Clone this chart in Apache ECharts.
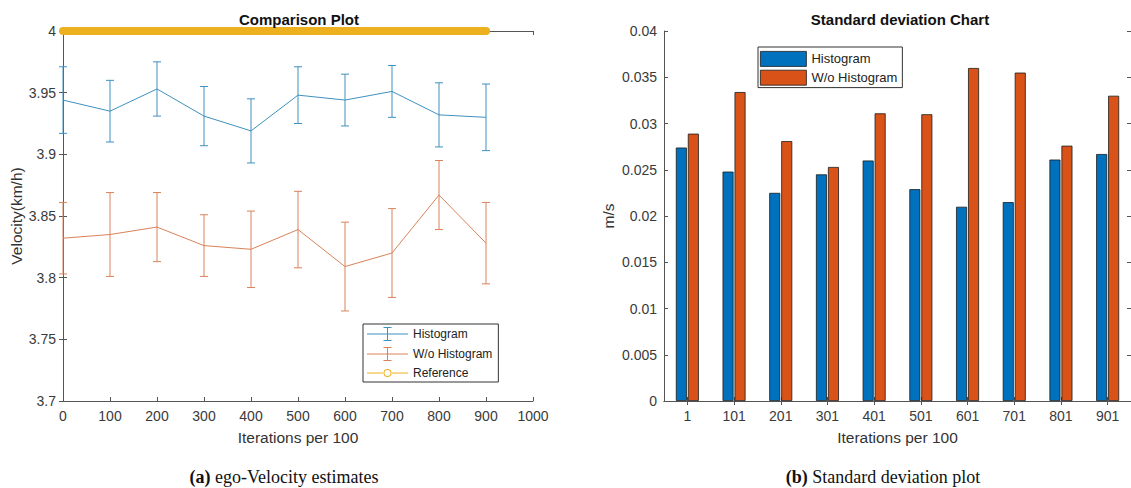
<!DOCTYPE html>
<html>
<head>
<meta charset="utf-8">
<title>Velocity estimates and standard deviation</title>
<script src="https://cdn.jsdelivr.net/npm/echarts@6/dist/echarts.min.js"></script>
<style>
  html, body { margin: 0; padding: 0; background: #fff; }
  #chart { width: 1131px; height: 488px; }
</style>
</head>
<body>
<div id="chart"></div>
<script>
// ---- data: ego-velocity estimates (km/h) per 100 iterations ----
const iterX = [0, 100, 200, 300, 400, 500, 600, 700, 800, 900];
const histMean = [3.944, 3.935, 3.953, 3.931, 3.919, 3.948, 3.944, 3.951, 3.932, 3.930];
const histErr  = [0.027, 0.025, 0.022, 0.024, 0.026, 0.023, 0.021, 0.021, 0.026, 0.027];
const woMean   = [3.832, 3.835, 3.841, 3.826, 3.823, 3.839, 3.809, 3.820, 3.867, 3.828];
const woErr    = [0.029, 0.034, 0.028, 0.025, 0.031, 0.031, 0.036, 0.036, 0.028, 0.033];
const refValue = [4, 4, 4, 4, 4, 4, 4, 4, 4, 4];

// ---- data: standard deviation (m/s) ----
const sdCategories = ['1', '101', '201', '301', '401', '501', '601', '701', '801', '901'];
const sdHist = [0.0274, 0.0248, 0.0225, 0.0245, 0.0260, 0.0229, 0.0210, 0.0215, 0.0261, 0.0267];
const sdWo   = [0.0289, 0.0334, 0.0281, 0.0253, 0.0311, 0.0310, 0.0360, 0.0355, 0.0276, 0.0330];

const FONT = 'Liberation Sans, Arial, Helvetica, sans-serif';
const SERIF = 'Liberation Serif, Times New Roman, serif';
const AXIS_COLOR = '#555';
const LABEL_COLOR = '#3a3a3a';
const NAME_SIZE = 15.5;
const C_HIST = '#3f91bf';
const C_WO = '#d9825a';
const C_REF = '#EDB120';
const C_BAR1 = '#0072BD';
const C_BAR2 = '#D95319';

const chart = echarts.init(document.getElementById('chart'), null, { renderer: 'svg' });

function trimNum(v, d) { return String(parseFloat(v.toFixed(d))); }

// boxed axis helpers (ticks pointing inward on all four sides)
function valueAxis(extra) {
  return Object.assign({
    type: 'value',
    axisLine: { show: true, lineStyle: { color: AXIS_COLOR, width: 1 } },
    axisTick: { show: true, inside: true, length: 4, lineStyle: { color: AXIS_COLOR } },
    splitLine: { show: false },
    axisLabel: { color: LABEL_COLOR, fontSize: 14, fontFamily: FONT, margin: 7 },
    nameTextStyle: { color: '#333', fontSize: NAME_SIZE, fontFamily: FONT }
  }, extra);
}

// vertical error bars with caps, placed through the grid's coordinate system
function errorBars(name, means, errs, color) {
  return {
    type: 'custom',
    name: name,
    xAxisIndex: 0,
    yAxisIndex: 0,
    clip: false,
    z: 3,
    silent: true,
    data: iterX.map((x, i) => [x, means[i] - errs[i], means[i] + errs[i]]),
    encode: { x: 0, y: [1, 2] },
    renderItem: function (params, api) {
      const x = api.value(0);
      const lo = api.coord([x, api.value(1)]);
      const hi = api.coord([x, api.value(2)]);
      const cap = 4;
      const style = { stroke: color, lineWidth: 1, fill: 'none' };
      return {
        type: 'group',
        children: [
          { type: 'line', shape: { x1: lo[0], y1: lo[1], x2: hi[0], y2: hi[1] }, style: style },
          { type: 'line', shape: { x1: lo[0] - cap, y1: lo[1], x2: lo[0] + cap, y2: lo[1] }, style: style },
          { type: 'line', shape: { x1: hi[0] - cap, y1: hi[1], x2: hi[0] + cap, y2: hi[1] }, style: style }
        ]
      };
    }
  };
}

// legend glyphs: line with error bar, line with circle marker
const errIcon = 'path://M0,6.5h41v1h-41z M20,0h1v14h-1z M16.5,0h8v1h-8z M16.5,13h8v1h-8z';
const refIcon = 'path://M0,6.5h16v1h-16z M25,6.5h16v1h-16z M20.5,3a4,4 0 1,1 0,8a4,4 0 1,1 0,-8z M20.5,4a3,3 0 1,0 0,6a3,3 0 1,0 0,-6z';

const option = {
  animation: false,
  backgroundColor: '#fff',
  title: [
    { text: 'Comparison Plot', left: 299, top: 19, textAlign: 'center', textVerticalAlign: 'middle', padding: 0,
      textStyle: { fontSize: 15, fontWeight: 'bold', color: '#111', fontFamily: FONT } },
    { text: 'Standard deviation Chart', left: 900, top: 19, textAlign: 'center', textVerticalAlign: 'middle', padding: 0,
      textStyle: { fontSize: 15, fontWeight: 'bold', color: '#111', fontFamily: FONT } }
  ],
  grid: [
    { left: 63, top: 31, width: 470, height: 370, containLabel: false },
    { left: 664, top: 31, width: 470, height: 370, containLabel: false }
  ],
  legend: [
    {
      data: [
        { name: 'Histogram', icon: errIcon, itemStyle: { color: C_HIST, borderWidth: 0 } },
        { name: 'W/o Histogram', icon: errIcon, itemStyle: { color: C_WO, borderWidth: 0 } },
        { name: 'Reference', icon: refIcon, itemStyle: { color: C_REF, borderWidth: 0 } }
      ],
      orient: 'vertical', left: 363, top: 324,
      padding: [3, 6, 3, 4], itemWidth: 41, itemHeight: 14, itemGap: 6,
      symbolKeepAspect: true, selectedMode: false,
      borderColor: '#333', borderWidth: 1, backgroundColor: '#fff',
      textStyle: { fontSize: 12, color: '#222', fontFamily: FONT }
    },
    {
      data: [
        { name: 'sd:Histogram', icon: 'rect', itemStyle: { color: C_BAR1, borderColor: '#1a1a1a', borderWidth: 0.8 } },
        { name: 'sd:W/o Histogram', icon: 'rect', itemStyle: { color: C_BAR2, borderColor: '#1a1a1a', borderWidth: 0.8 } }
      ],
      formatter: function (n) { return n.replace('sd:', ''); },
      orient: 'vertical', left: 758, top: 47,
      padding: [4, 5, 2, 2], itemWidth: 46, itemHeight: 15, itemGap: 3,
      selectedMode: false,
      borderColor: '#333', borderWidth: 1, backgroundColor: '#fff',
      textStyle: { fontSize: 13, color: '#222', fontFamily: FONT }
    }
  ],
  xAxis: [
    valueAxis({ gridIndex: 0, position: 'bottom', min: 0, max: 1000, interval: 100,
      name: 'Iterations per 100', nameLocation: 'middle', nameGap: 28,
      axisLabel: { color: LABEL_COLOR, fontSize: 14, fontFamily: FONT, margin: 8,
        formatter: v => String(Math.round(v)) } }),
    valueAxis({ gridIndex: 0, position: 'top', min: 0, max: 1000, interval: 100, axisLabel: { show: false } }),
    {
      type: 'category', gridIndex: 1, position: 'bottom', data: sdCategories,
      name: 'Iterations per 100', nameLocation: 'middle', nameGap: 28,
      nameTextStyle: { color: '#333', fontSize: NAME_SIZE, fontFamily: FONT },
      axisLine: { show: true, lineStyle: { color: AXIS_COLOR } },
      axisTick: { show: true, inside: true, alignWithLabel: true, length: 4, lineStyle: { color: AXIS_COLOR } },
      axisLabel: { color: LABEL_COLOR, fontSize: 14, fontFamily: FONT, margin: 8 }
    },
    {
      type: 'category', gridIndex: 1, position: 'top', data: sdCategories,
      axisLine: { show: true, lineStyle: { color: AXIS_COLOR } },
      axisTick: { show: true, inside: true, alignWithLabel: true, length: 4, lineStyle: { color: AXIS_COLOR } },
      axisLabel: { show: false }
    }
  ],
  yAxis: [
    valueAxis({ gridIndex: 0, position: 'left', min: 3.7, max: 4, interval: 0.05,
      name: 'Velocity(km/h)', nameLocation: 'middle', nameGap: 39,
      axisLabel: { color: LABEL_COLOR, fontSize: 14, fontFamily: FONT, margin: 7,
        formatter: v => trimNum(v, 3) } }),
    valueAxis({ gridIndex: 0, position: 'right', min: 3.7, max: 4, interval: 0.05, axisLabel: { show: false } }),
    valueAxis({ gridIndex: 1, position: 'left', min: 0, max: 0.04, interval: 0.005,
      name: 'm/s', nameLocation: 'middle', nameGap: 48,
      axisLabel: { color: LABEL_COLOR, fontSize: 14, fontFamily: FONT, margin: 7,
        formatter: v => trimNum(v, 4) } }),
    valueAxis({ gridIndex: 1, position: 'right', min: 0, max: 0.04, interval: 0.005, axisLabel: { show: false } })
  ],
  series: [
    {
      type: 'line', name: 'Reference', xAxisIndex: 0, yAxisIndex: 0,
      data: iterX.map((x, i) => [x, refValue[i]]),
      showSymbol: false, clip: false, z: 4, silent: true,
      lineStyle: { color: C_REF, width: 8, cap: 'round', join: 'round' },
      itemStyle: { color: C_REF }
    },
    {
      type: 'line', name: 'Histogram', xAxisIndex: 0, yAxisIndex: 0,
      data: iterX.map((x, i) => [x, histMean[i]]),
      showSymbol: false, clip: false, z: 3, silent: true,
      lineStyle: { color: C_HIST, width: 1 }, itemStyle: { color: C_HIST }
    },
    errorBars('Histogram', histMean, histErr, C_HIST),
    {
      type: 'line', name: 'W/o Histogram', xAxisIndex: 0, yAxisIndex: 0,
      data: iterX.map((x, i) => [x, woMean[i]]),
      showSymbol: false, clip: false, z: 3, silent: true,
      lineStyle: { color: C_WO, width: 1 }, itemStyle: { color: C_WO }
    },
    errorBars('W/o Histogram', woMean, woErr, C_WO),
    {
      type: 'bar', name: 'sd:Histogram', xAxisIndex: 2, yAxisIndex: 2,
      data: sdHist, barWidth: 11, barGap: '9%', silent: true,
      itemStyle: { color: C_BAR1, borderColor: '#1a1a1a', borderWidth: 0.8 }
    },
    {
      type: 'bar', name: 'sd:W/o Histogram', xAxisIndex: 2, yAxisIndex: 2,
      data: sdWo, barWidth: 11, barGap: '9%', silent: true,
      itemStyle: { color: C_BAR2, borderColor: '#1a1a1a', borderWidth: 0.8 }
    }
  ],
  graphic: [
    { type: 'text', x: 284, y: 477, silent: true,
      style: { text: '{b|(a)} ego-Velocity estimates', fontFamily: SERIF, fontSize: 18, fill: '#111',
        align: 'center', verticalAlign: 'middle',
        rich: { b: { fontFamily: SERIF, fontSize: 18, fontWeight: 'bold', fill: '#111' } } } },
    { type: 'text', x: 883, y: 477, silent: true,
      style: { text: '{b|(b)} Standard deviation plot', fontFamily: SERIF, fontSize: 18, fill: '#111',
        align: 'center', verticalAlign: 'middle',
        rich: { b: { fontFamily: SERIF, fontSize: 18, fontWeight: 'bold', fill: '#111' } } } }
  ]
};

chart.setOption(option);
</script>
</body>
</html>
